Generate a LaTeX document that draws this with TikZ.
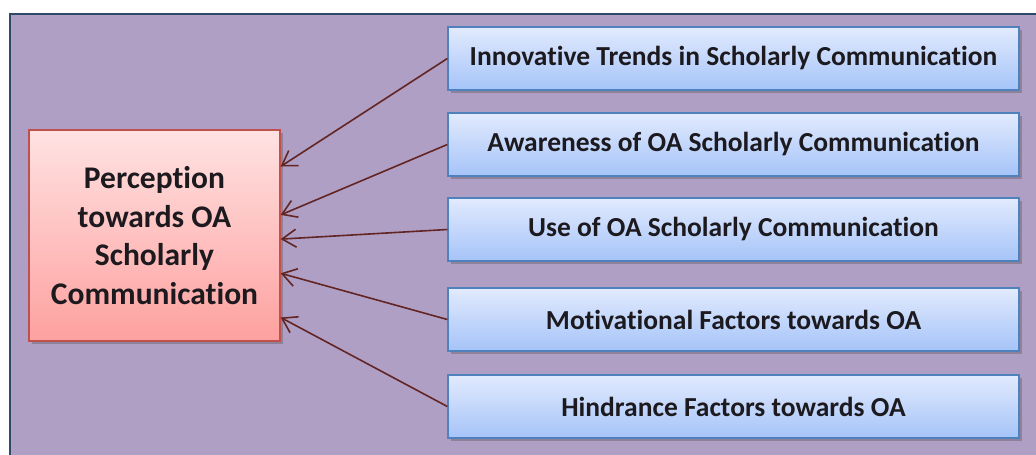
\documentclass[tikz,border=0pt]{standalone}
\usepackage{fontspec}
\setmainfont{Carlito}[Ligatures=NoCommon]
\usetikzlibrary{arrows.meta,shadows,calc}
\definecolor{bgpurple}{HTML}{B09FC5}
\definecolor{framec}{HTML}{2F4A66}
\definecolor{sideborder}{HTML}{4F81BD}
\definecolor{sidetop}{HTML}{E2EAFE}
\definecolor{sidebot}{HTML}{A5C4F8}
\definecolor{maintop}{HTML}{FFE2E2}
\definecolor{mainbot}{HTML}{FDA19F}
\definecolor{mainborder}{HTML}{C0504D}
\definecolor{arrowc}{HTML}{632523}
\definecolor{textc}{HTML}{1C1A1E}
\begin{document}
\begin{tikzpicture}[x=1pt,y=-1pt,
  boxshadow/.style={drop shadow={shadow xshift=3pt,shadow yshift=-3pt,opacity=.35,fill=black!70}},
  sidebox/.style={draw=sideborder, line width=1.3pt, top color=sidetop, bottom color=sidebot,
    minimum width=571pt, minimum height=63pt, inner sep=0pt, text=textc,
    font=\bfseries\fontsize{27.5}{33}\selectfont, boxshadow},
  mainbox/.style={draw=mainborder, line width=1.3pt, top color=maintop, bottom color=mainbot,
    minimum width=251pt, minimum height=211pt, inner sep=0pt, text=textc, align=center,
    font=\bfseries\fontsize{31.5}{38.7}\selectfont, boxshadow},
  arr/.style={draw=arrowc, line width=1.6pt, -{Straight Barb[length=14pt,width=18pt,line width=1.6pt]}}]
\useasboundingbox (0,0) rectangle (1036,455);
\fill[white] (0,0) rectangle (1036,455);
\draw[fill=bgpurple, draw=framec, line width=2.2pt] (10,14) rectangle (1050,470);
\node[mainbox] (c) at (154.5,235.5) {Perception\\towards OA\\Scholarly\\Communication};
\node[sidebox] (s1) at (733.5,58.5) {Innovative Trends in Scholarly Communication};
\node[sidebox] (s2) at (733.5,144.5) {Awareness of OA Scholarly Communication};
\node[sidebox] (s3) at (733.5,229.5) {Use of OA Scholarly Communication};
\node[sidebox] (s4) at (733.5,319.5) {Motivational Factors towards OA};
\node[sidebox] (s5) at (733.5,406.5) {Hindrance Factors towards OA};
\coordinate (e1) at ($(c.north east)!0.175!(c.south east)$);
\coordinate (e2) at ($(c.north east)!0.403!(c.south east)$);
\coordinate (e3) at ($(c.north east)!0.517!(c.south east)$);
\coordinate (e4) at ($(c.north east)!0.678!(c.south east)$);
\coordinate (e5) at ($(c.north east)!0.886!(c.south east)$);
\draw[arr] (s1.west) -- (e1);
\draw[arr] (s2.west) -- (e2);
\draw[arr] (s3.west) -- (e3);
\draw[arr] (s4.west) -- (e4);
\draw[arr] (s5.west) -- (e5);
\end{tikzpicture}
\end{document}
